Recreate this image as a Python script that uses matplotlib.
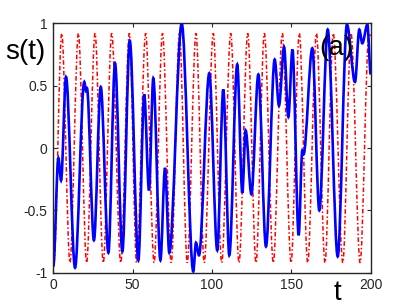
import numpy as np
import matplotlib
matplotlib.use("Agg")
import matplotlib.pyplot as plt
from matplotlib.path import Path
from matplotlib.patches import PathPatch

# local extrema (time, value)
blue_t = [0.0, 3.2, 4.9, 8.0, 13.7, 19.5, 20.6, 21.2, 25.6, 29.9, 34.7, 38.9,
          43.5, 48.2, 53.6, 57.3, 60.3, 63.0, 67.5, 70.4, 73.1, 80.9, 88.2,
          89.9, 91.8, 98.3, 103.3, 107.1, 110.9, 115.9, 119.1, 121.2, 124.8,
          129.2, 134.0, 139.5, 142.2, 145.4, 148.1, 150.7, 154.6, 156.9, 157.7,
          163.2, 167.6, 172.9, 179.2, 185.0, 190.1, 192.8, 194.7, 197.9, 200.0]
blue_s = [-0.95, -0.08, -0.26, 0.57, -0.96, 0.53, 0.46, 0.48, -0.74, 0.49, -0.84, 0.68,
          -0.83, 0.86, -0.90, 0.43, -0.34, 0.56, -0.90, -0.16, -0.84, 1.00, -0.99,
          -0.76, -0.86, 0.60, -0.82, 0.47, -0.86, 0.67, -0.36, 0.14, -0.37,
          0.59, -0.79, 0.71, 0.34, 0.81, 0.25, 0.79, -0.70, -0.02, -0.05,
          0.80, -0.50, 0.95, -0.87, 0.99, 0.53, 0.95, 0.84, 0.99, 0.59]

red_t = [0.4, 5.3, 10.5, 15.8, 21.0, 26.3, 31.5, 36.8, 42.5, 47.9, 52.5, 58.2,
         63.5, 68.8, 74.3, 79.5, 84.4, 89.9, 95.1, 100.8, 106.1, 111.8, 117.0,
         122.5, 127.7, 133.0, 138.6, 144.3, 149.8, 155.0, 160.3, 165.8, 171.2,
         176.4, 182.4, 187.6, 193.3, 198.9, 200.0]
red_s = [-0.92, 0.92, -0.92, 0.92, -0.92, 0.92, -0.92, 0.92, -0.92, 0.92, -0.92, 0.92,
         -0.92, 0.92, -0.92, 0.92, -0.92, 0.92, -0.92, 0.92, -0.92, 0.92, -0.92,
         0.92, -0.92, 0.92, -0.92, 0.92, -0.92, 0.92, -0.92, 0.92, -0.92,
         0.92, -0.92, 0.92, -0.92, 0.92, 0.90]

xticks = [0, 50, 100, 150, 200]
yticks = [-1, -0.5, 0, 0.5, 1]
yticklabels = ['-1', '-0.5', '0', '0.5', '1']


def smooth_path(ts, vs):
    # cubic Bezier between consecutive extrema, flat tangents at each extremum
    verts = [(ts[0], vs[0])]
    codes = [Path.MOVETO]
    for i in range(1, len(ts)):
        dt = ts[i] - ts[i - 1]
        verts += [(ts[i - 1] + dt / 3, vs[i - 1]), (ts[i] - dt / 3, vs[i]), (ts[i], vs[i])]
        codes += [Path.CURVE4] * 3
    return Path(verts, codes)


plt.rcParams['font.family'] = ['Liberation Sans', 'DejaVu Sans']

fig = plt.figure(figsize=(4.09, 3.07), dpi=100)
ax = fig.add_axes([0.1303, 0.1117, 0.7761, 0.8123])

ax.add_patch(PathPatch(smooth_path(red_t, red_s), facecolor='none', edgecolor='red',
                       lw=1.1, linestyle=(0, (3, 1.5, 1, 1.5)), transform=ax.transData))
ax.add_patch(PathPatch(smooth_path(blue_t, blue_s), facecolor='none', edgecolor='blue',
                       lw=1.9, transform=ax.transData))

ax.set_xlim(0, 200)
ax.set_ylim(-1, 1)
ax.set_xticks(xticks)
ax.set_yticks(yticks)
ax.set_yticklabels(yticklabels)
ax.tick_params(direction='in', top=True, right=True, labelsize=10, length=3,
               color='#262626', labelcolor='#262626', pad=4)
for sp in ax.spines.values():
    sp.set_color('#262626')
    sp.set_linewidth(1.0)

ax.text(-0.089, 0.885, 's(t)', transform=ax.transAxes, fontsize=20,
        ha='center', va='center')
ax.text(0.894, -0.081, 't', transform=ax.transAxes, fontsize=20,
        ha='center', va='center')
ax.text(0.891, 0.901, '(a)', transform=ax.transAxes, fontsize=20,
        ha='center', va='center')

fig.savefig('out.png', dpi=100)
